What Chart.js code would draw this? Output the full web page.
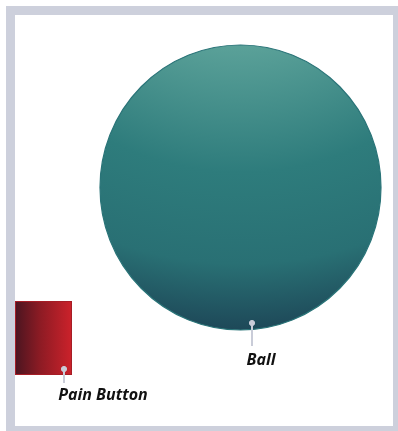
<!DOCTYPE html>
<html>
<head>
<meta charset="utf-8">
<script src="https://cdn.jsdelivr.net/npm/chart.js@4.4.1/dist/chart.umd.min.js"></script>
<style>
  html, body { margin: 0; padding: 0; background: #fff; }
  #frame {
    position: absolute; left: 6px; top: 6px; width: 392px; height: 425px;
    box-sizing: border-box; border: 9px solid #cdd0dc; border-right-width: 5px; border-bottom-width: 5px;
    background: #fff;
  }
  #wrap { position: absolute; left: 0; top: 0; width: 398px; height: 431px; }
</style>
</head>
<body>
<div id="frame"></div>
<div id="wrap"><canvas id="chart" width="398" height="431"></canvas></div>
<script>
// ---------- Data (scene units, y grows downward) ----------
const shapeNames = ["Ball", "Pain Button"];
const shapeKinds = ["ellipse", "rect"];
const shapeLeft = [100, 15];
const shapeTop = [45, 301];
const shapeRight = [381, 72];
const shapeBottom = [330, 375];

const pinX = [252, 64];
const pinTopY = [323, 369];
const pinBottomY = [346, 383];
const labelX = [261, 103];
const labelY = [360, 395];

// ---------- Plugins ----------
const shapesPlugin = {
  id: "shapes",
  beforeDatasetsDraw(chart) {
    const { ctx } = chart;
    const xs = chart.scales.x, ys = chart.scales.y;
    shapeKinds.forEach((kind, i) => {
      const l = xs.getPixelForValue(shapeLeft[i]), r = xs.getPixelForValue(shapeRight[i]);
      const t = ys.getPixelForValue(shapeTop[i]), b = ys.getPixelForValue(shapeBottom[i]);
      ctx.save();
      if (kind === "ellipse") {
        const cx = (l + r) / 2, cy = (t + b) / 2;
        const g = ctx.createRadialGradient(cx, t - 160, 150, cx, t - 160, b - t + 170);
        g.addColorStop(0, "#5ea49b");
        g.addColorStop(0.45, "#2e7c7c");
        g.addColorStop(0.75, "#297074");
        g.addColorStop(1, "#1c4254");
        ctx.beginPath();
        ctx.ellipse(cx, cy, (r - l) / 2, (b - t) / 2, 0, 0, Math.PI * 2);
        ctx.fillStyle = g;
        ctx.fill();
        ctx.lineWidth = 1.2;
        ctx.strokeStyle = "#2a7478";
        ctx.stroke();
      } else {
        const g = ctx.createLinearGradient(l, 0, r, 0);
        g.addColorStop(0, "#4a1520");
        g.addColorStop(0.45, "#8e1b24");
        g.addColorStop(1, "#cc222b");
        ctx.fillStyle = g;
        ctx.fillRect(l, t, r - l, b - t);
        ctx.lineWidth = 1;
        ctx.strokeStyle = "#a61d26";
        ctx.strokeRect(l + 0.5, t + 0.5, r - l - 1, b - t - 1);
      }
      ctx.restore();
    });
  },
  afterDatasetsDraw(chart) {
    const { ctx } = chart;
    const xs = chart.scales.x, ys = chart.scales.y;
    ctx.save();
    ctx.font = "italic bold 16px 'Open Sans', sans-serif";
    ctx.fillStyle = "#111";
    ctx.textAlign = "center";
    ctx.textBaseline = "middle";
    shapeNames.forEach((name, i) => {
      ctx.fillText(name, xs.getPixelForValue(labelX[i]), ys.getPixelForValue(labelY[i]));
    });
    ctx.restore();
  }
};

// ---------- Chart ----------
const stemData = [];
pinX.forEach((x, i) => {
  stemData.push({ x, y: pinTopY[i] }, { x, y: pinBottomY[i] }, { x: NaN, y: NaN });
});

new Chart(document.getElementById("chart").getContext("2d"), {
  type: "scatter",
  data: {
    datasets: [
      {
        label: "stems", type: "line", data: stemData, showLine: true, spanGaps: false,
        borderColor: "#c9ccd8", borderWidth: 2, pointRadius: 0, order: 2
      },
      {
        label: "pins", data: pinX.map((x, i) => ({ x, y: pinTopY[i] })),
        backgroundColor: "#c9ccd8", borderColor: "#c9ccd8", pointRadius: 2.6, order: 1
      }
    ]
  },
  options: {
    responsive: false,
    animation: false,
    layout: { padding: 0, autoPadding: false },
    plugins: { legend: { display: false }, tooltip: { enabled: false } },
    scales: {
      x: { type: "linear", min: 0, max: 398, display: false },
      y: { type: "linear", min: 0, max: 431, reverse: true, display: false }
    }
  },
  plugins: [shapesPlugin]
});
</script>
</body>
</html>
